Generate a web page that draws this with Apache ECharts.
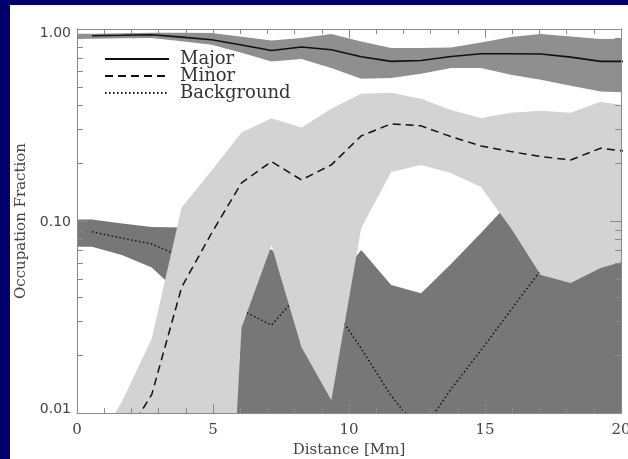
<!DOCTYPE html>
<html>
<head>
<meta charset="utf-8">
<script src="https://cdn.jsdelivr.net/npm/echarts@6/dist/echarts.min.js"></script>
<style>
  html, body { margin: 0; padding: 0; }
  body { width: 628px; height: 459px; background: #000068; position: relative; overflow: hidden; }
  #chart { position: absolute; left: 10px; top: 5px; width: 618px; height: 454px; background: #ffffff; }
</style>
</head>
<body>
<div id="chart"></div>
<script>
// Distance samples (Mm) for the median curves
const distance = [0.55, 1.65, 2.75, 3.85, 4.95, 6.05, 7.15, 8.25, 9.35, 10.45,
                  11.55, 12.65, 13.75, 14.85, 15.95, 17.05, 18.15, 19.25, 20.35];
// Distance samples for the shaded ranges (they start at the origin)
const bandDistance = [0, 0.55, 1.65, 2.75, 3.85, 4.95, 6.05, 7.15, 8.25, 9.35, 10.45,
                      11.55, 12.65, 13.75, 14.85, 15.95, 17.05, 18.15, 19.25, 20.35];

// Major population
const majorMedian = [0.923, 0.928, 0.934, 0.907, 0.879, 0.825, 0.773, 0.806, 0.780, 0.717,
                     0.678, 0.686, 0.719, 0.743, 0.743, 0.741, 0.714, 0.678, 0.678];
const majorUpper = [0.945, 0.945, 0.951, 0.957, 0.957, 0.953, 0.912, 0.872, 0.898, 0.942,
                    0.862, 0.796, 0.796, 0.802, 0.851, 0.908, 0.942, 0.915, 0.887, 0.890];
const majorLower = [0.890, 0.890, 0.895, 0.898, 0.864, 0.828, 0.752, 0.678, 0.698, 0.626,
                    0.551, 0.555, 0.584, 0.626, 0.626, 0.577, 0.544, 0.506, 0.473, 0.467];

// Minor population
const minorMedian = [0.003, 0.007, 0.0125, 0.0453, 0.0866, 0.158, 0.204, 0.1636, 0.196, 0.2776,
                     0.3208, 0.313, 0.275, 0.246, 0.230, 0.2165, 0.208, 0.2394, 0.229];
const minorUpper = [0.004, 0.0064, 0.0114, 0.0245, 0.118, 0.183, 0.289, 0.343, 0.307, 0.384,
                    0.460, 0.466, 0.433, 0.379, 0.344, 0.366, 0.375, 0.366, 0.418, 0.395];
const minorLower = [0.00004, 0.00004, 0.00004, 0.00004, 0.00004, 0.00004, 0.0279, 0.0745, 0.0221, 0.01165,
                    0.0919, 0.180, 0.196, 0.178, 0.1504, 0.0919, 0.0523, 0.0476, 0.0569, 0.0629];

// Background population
const bgMedian = [0.0879, 0.0815, 0.0759, 0.065, 0.050, 0.0344, 0.0287, 0.043, 0.0367, 0.0217,
                  0.0123, 0.0079, 0.0133, 0.0212, 0.0344, 0.0555, 0.060, 0.065, 0.070];
const bgUpper = [0.1018, 0.1018, 0.097, 0.093, 0.0925, 0.080, 0.070, 0.071, 0.050, 0.045,
                 0.0706, 0.0464, 0.0421, 0.0597, 0.0866, 0.127, 0.110, 0.100, 0.100, 0.100];
const bgLower = [0.0734, 0.0734, 0.0665, 0.0572, 0.0409, 0.001, 0.001, 0.001, 0.001, 0.001,
                 0.001, 0.001, 0.001, 0.001, 0.001, 0.001, 0.001, 0.001, 0.001, 0.001];

// Axis ticks
const xTickInterval = 5;
const yMajorTicks = [0.01, 0.1, 1];
const yMinorTicks = [0.02, 0.03, 0.04, 0.05, 0.06, 0.07, 0.08, 0.09,
                     0.2, 0.3, 0.4, 0.5, 0.6, 0.7, 0.8, 0.9];

const AXIS_GREY = '#8a8a8a';
const TEXT_GREY = '#444444';
const SERIF = '"DejaVu Serif", serif';
const SANS = '"DejaVu Sans", sans-serif';

function pairs(xs, ys) { return xs.map((x, i) => [x, ys[i]]); }

// a shaded range drawn as one polygon: upper edge left→right, lower edge back
function band(lo, hi, color, z) {
  return {
    type: 'custom', clip: true, silent: true, z: z,
    data: bandDistance.map((x, i) => [x, lo[i], hi[i]]),
    encode: { x: 0, y: [1, 2] },
    renderItem(params, api) {
      if (params.dataIndex !== 0) return null;
      const n = params.dataInsideLength || bandDistance.length;
      const top = [], bottom = [];
      for (let i = 0; i < n; i++) {
        top.push(api.coord([api.value(0, i), api.value(2, i)]));
        bottom.push(api.coord([api.value(0, i), api.value(1, i)]));
      }
      return { type: 'polygon', shape: { points: top.concat(bottom.reverse()) },
               style: { fill: color, stroke: null } };
    }
  };
}

// layering: background range, its curve, minor range (covers the background curve),
// minor curve, major range, major curve
function curve(name, ys, dash, width, z) {
  return { type: 'line', name: name, data: pairs(distance, ys), symbol: 'none', silent: true,
           itemStyle: { color: '#111111' },
           lineStyle: { color: '#111111', width: width, type: dash }, z: z };
}

function xAxisDef(pos, labelled) {
  return {
    type: 'value', position: pos, min: 0, max: 20, interval: xTickInterval,
    axisLine: { show: true, lineStyle: { color: AXIS_GREY, width: 1 } },
    axisTick: { show: true, inside: true, length: 9, lineStyle: { color: AXIS_GREY } },
    minorTick: { show: true, splitNumber: 5, length: 5, lineStyle: { color: AXIS_GREY } },
    splitLine: { show: false },
    axisLabel: { show: labelled, fontFamily: SERIF, fontSize: 15, color: TEXT_GREY, margin: 10 },
    name: labelled ? 'Distance [Mm]' : '',
    nameLocation: 'middle', nameGap: 26,
    nameTextStyle: { fontFamily: SERIF, fontSize: 15, color: TEXT_GREY },
    z: 10
  };
}

// tick labels sit a little toward the middle of the axis
const yLabelRich = {
  hi: { padding: [9, 0, 0, 0], fontFamily: SANS, fontSize: 14, color: TEXT_GREY },
  mid: { padding: [2, 0, 0, 0], fontFamily: SANS, fontSize: 14, color: TEXT_GREY },
  lo: { padding: [0, 0, 7, 0], fontFamily: SANS, fontSize: 14, color: TEXT_GREY }
};

function yAxisDef(pos, ticks, len, labelled) {
  return {
    type: 'log', logBase: 10, position: pos, min: 0.01, max: 1,
    axisLine: { show: true, onZero: false, lineStyle: { color: AXIS_GREY, width: 1 } },
    axisTick: { show: true, inside: true, length: len, customValues: ticks,
                lineStyle: { color: AXIS_GREY } },
    splitLine: { show: false },
    axisLabel: {
      show: labelled, customValues: labelled ? yMajorTicks : undefined,
      formatter: v => {
        const s = Number(v).toFixed(2);
        const key = v > 0.5 ? 'hi' : (v > 0.05 ? 'mid' : 'lo');
        return '{' + key + '|' + s + '}';
      },
      rich: yLabelRich,
      fontFamily: SANS, fontSize: 14, color: TEXT_GREY, margin: 6
    },
    name: labelled ? 'Occupation Fraction' : '',
    nameLocation: 'middle', nameGap: 47,
    nameTextStyle: { fontFamily: SERIF, fontSize: 15, color: TEXT_GREY },
    z: 10
  };
}

const chart = echarts.init(document.getElementById('chart'), null, { renderer: 'canvas' });
chart.setOption({
  animation: false,
  backgroundColor: '#ffffff',
  grid: { left: 67, right: 7, top: 24, bottom: 46, containLabel: false, outerBoundsMode: 'none' },
  legend: {
    data: ['Major', 'Minor', 'Background'],
    orient: 'vertical', left: 89, top: 40,
    itemWidth: 64, itemHeight: 14, itemGap: -1,
    itemStyle: { opacity: 0 },
    textStyle: { fontFamily: SERIF, fontSize: 18, lineHeight: 16, color: '#333333',
                 padding: [0, 0, 0, 6] },
    selectedMode: false,
    z: 10
  },
  xAxis: [xAxisDef('bottom', true), xAxisDef('top', false)],
  yAxis: [
    yAxisDef('left', yMajorTicks, 11, true),
    yAxisDef('left', yMinorTicks, 6, false),
    yAxisDef('right', yMajorTicks, 11, false),
    yAxisDef('right', yMinorTicks, 6, false)
  ],
  series: [
    band(bgLower, bgUpper, '#777777', 1),
    curve('Background', bgMedian, [1.5, 2.5], 1.5, 2),
    band(minorLower, minorUpper, '#d3d3d3', 3),
    curve('Minor', minorMedian, [8, 5], 1.5, 4),
    band(majorLower, majorUpper, '#8f8f8f', 5),
    curve('Major', majorMedian, 'solid', 1.6, 6)
  ]
});
</script>
</body>
</html>
